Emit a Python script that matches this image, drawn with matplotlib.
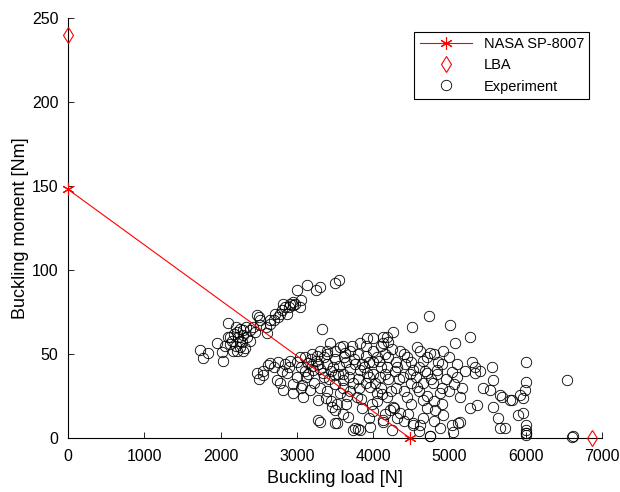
import numpy as np
import matplotlib as mpl
import matplotlib.pyplot as plt

mpl.rcParams.update({'font.family': ['Liberation Sans', 'DejaVu Sans'], 'font.size': 10})

# NASA SP-8007 interaction line and LBA points
nasa_load = [0, 4480]
nasa_moment = [148, 0]
lba_load = [0, 6870]
lba_moment = [240, 0]

exp_load = [1730, 1770, 1835, 2018, 2031, 1953, 2097, 2123, 2215, 2254, 2293, 2320, 2215, 2385, 2450,
            2477, 2516, 2608, 2647, 2713, 2778, 2818, 2910, 2949, 3001, 3132, 3040, 2870, 3250, 3300,
            3500, 3550, 2477, 2555, 2621, 2500,
            3329, 2647, 2556, 2778, 2818, 2949, 3080, 3277, 2910, 3040, 3145, 3263, 3394, 3434, 3565,
            3630, 3722, 3827, 3919, 3997, 4128, 3211, 3342, 3499, 3604, 3735, 3827, 3919, 3958, 4050,
            3788, 3565, 3460, 3499, 3277, 3499, 3670, 3761, 3827, 3958, 4128, 2870, 2739, 3067, 3172,
            4731, 4508, 5007, 5269, 5072, 4915, 4744, 4574, 4351, 4181, 4260, 4128, 4443, 4653, 4849,
            5033, 5098, 5334, 5334, 5557, 5570, 5439, 5531, 5662, 5793, 5138, 5269, 5360, 5570, 5636,
            5138, 5033, 4744, 4521, 4312, 4260, 4443, 4574, 4784, 4876, 4653, 4810, 4915, 4181, 4220,
            4390, 4312, 4521, 4705, 4836, 4653, 4089, 4181,
            6003, 6540, 6003, 5990, 5963, 5688, 5819, 5898, 5963, 5727, 6003, 6003, 6003, 6000, 6605, 5924,
            3303, 3525, 3735, 3800, 4128, 4521, 4744, 5046, 5111, 5662, 6003, 6618,
            2150, 2180, 2200, 2230, 2260, 2280, 2300, 2330, 2200, 2250, 2120, 2160, 2340, 2290, 2100,
            2060, 2380, 2420,
            2500, 2520, 2600, 2650, 2700, 2750, 2800, 2850, 2900, 2950, 2980, 3050,
            3000, 3050, 3100, 3150, 3200, 3250, 3300, 3350, 3400, 3450, 3500, 3550, 3600, 3650, 3700,
            3750, 3800, 3850, 3900, 3950, 4000, 4050, 4100, 4150, 4200, 4250, 3100, 3200, 3300, 3400,
            3500, 3600, 3700, 3900, 4000, 4100, 4200, 4300, 4400, 4500, 4600, 4700, 4800, 4900, 5000,
            5100, 5200, 5300, 5400, 3300, 3400, 3500, 3600, 3700, 3800, 3900, 4000, 4100, 4200, 4300,
            4400, 4500, 4600, 4700, 4800, 4900, 5000, 3450, 3650, 3850, 4000, 4150, 4350, 4500, 4650,
            4800, 4900, 3950, 4050, 3600, 4250, 4400, 4600, 4700, 2950, 3000, 3050, 2900, 2850, 2800,
            2750, 2700,
            3120, 3180, 3230, 3280, 3360, 3420, 3480, 3540, 3620, 3680, 3760, 3820, 3880, 3940, 4020,
            4080, 4160, 4230, 4290, 4340, 4420, 4480, 4560, 4620, 4680, 4760, 4840, 4960, 5060, 5160,
            3380, 3520, 3660, 3840, 3980, 4120, 4270, 4460, 4620, 4880]
exp_moment = [52.4, 47.6, 50.6, 51, 46, 56.5, 68.5, 60, 63, 58, 64, 53.6, 52, 58, 63,
              73, 67, 62.5, 70, 74, 74, 80, 80, 79, 88, 91, 78, 74, 88, 90,
              92, 94, 38.7, 40, 43.5, 35,
              65, 44.6, 37.5, 33, 28.6, 26.8, 24.4, 22.6, 46, 48, 44.6, 49, 52, 56.5, 54,
              50.6, 55, 56.5, 59.5, 59.5, 60, 40.5, 38.7, 37.5, 34.5, 32.7, 40.5, 38.7, 30.4, 26.8,
              24.4, 26.8, 18.5, 16.7, 10.7, 8.9, 12.5, 6, 4.8, 6.5, 10.7, 38.7, 34.5, 31.5, 28.6,
              72.6, 66, 67, 60, 56.5, 52, 50.6, 54, 52, 60, 63, 56.5, 48, 46, 45,
              39, 36, 42, 38.7, 42, 34.5, 29.8, 28.6, 25.6, 22.6, 24.4, 17.9, 19.6, 18.5, 11.9,
              9.5, 7.7, 1.2, 8.9, 11.9, 18.5, 24.4, 30.4, 32.7, 26.8, 22.6, 16.7, 13.7, 24.4, 16.7,
              36, 42, 40.5, 38.7, 40.5, 32.7, 36, 42,
              45, 34.5, 33.3, 28.6, 24, 24.4, 22.6, 13.7, 14.9, 6, 7.7, 4.8, 1.8, 3, 0.6, 25.6,
              9.5, 8.9, 4.8, 5.4, 9.5, 7.7, 1, 3.6, 8.9, 6, 3, 1,
              58, 62, 55, 60, 65, 57, 61, 66, 66, 54, 56, 52, 60, 52, 60,
              55, 64, 66,
              72, 70, 66, 68, 70, 72, 76, 78, 78, 81, 80, 82,
              45, 42, 40, 38, 43, 46, 41, 36, 44, 40, 47, 43, 38, 45, 41,
              47, 50, 44, 49, 45, 52, 48, 55, 50, 57, 53, 48, 50, 52, 50,
              52, 55, 52, 55, 45, 42, 48, 45, 50, 45, 42, 48, 50, 44, 48,
              44, 40, 45, 40, 30, 28, 32, 30, 28, 35, 33, 38, 30, 35, 30,
              28, 33, 28, 25, 22, 30, 28, 22, 20, 18, 16, 14, 15, 20, 12,
              10, 20, 12, 22, 14, 5, 10, 4, 18, 32, 36, 30, 42, 44, 40,
              45, 42,
              36, 47, 33, 44, 48, 35, 42, 38, 48, 36, 44, 30, 42, 36, 33,
              46, 38, 28, 40, 35, 44, 38, 36, 52, 40, 35, 38, 35, 32, 30,
              24, 20, 25, 23, 20, 26, 18, 14, 8, 6]

fig = plt.figure(figsize=(6.2, 4.92), dpi=100)
ax = fig.add_axes([0.1097, 0.1098, 0.8613, 0.8537])

ax.plot(nasa_load, nasa_moment, 'r-', marker=(6, 2, 0), ms=9, mew=0.8, lw=0.8,
        label='NASA SP-8007', clip_on=False, zorder=3)
ax.plot(lba_load, lba_moment, 'rd', ms=8, mfc='none', mew=0.8, ls='none',
        label='LBA', clip_on=False, zorder=3)
ax.plot(exp_load, exp_moment, 'ko', ms=7.5, mfc='none', mew=0.6, ls='none',
        label='Experiment', clip_on=False, zorder=2)

ax.set_xlim(0, 7000)
ax.set_ylim(0, 250)
ax.set_xticks(np.arange(0, 7001, 1000))
ax.set_yticks(np.arange(0, 251, 50))
ax.spines['top'].set_visible(False)
ax.spines['right'].set_visible(False)
ax.tick_params(direction='in', length=4, width=0.6, labelsize=11.5)
ax.tick_params(axis='x', pad=8)
ax.tick_params(axis='y', pad=7)
ax.set_xlabel('Buckling load [N]', fontsize=13, labelpad=4)
ax.set_ylabel('Buckling moment [Nm]', fontsize=13, labelpad=2)

leg = ax.legend(loc='upper right', bbox_to_anchor=(0.976, 0.967), borderaxespad=0,
                fontsize=10.5, fancybox=False, edgecolor='black', framealpha=1,
                handlelength=3.6, borderpad=0.35, labelspacing=0.5)
leg.get_frame().set_linewidth(0.8)

plt.savefig('out.png', dpi=100)
